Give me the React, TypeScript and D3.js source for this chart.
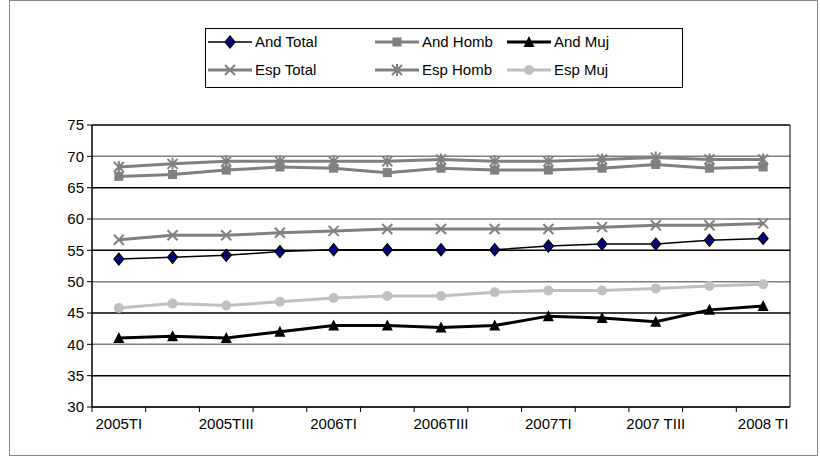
import * as d3 from 'd3'

const categories = ['2005TI', '2005TII', '2005TIII', '2005TIV', '2006TI', '2006TII', '2006TIII', '2006TIV', '2007TI', '2007TII', '2007 TIII', '2007TIV', '2008 TI']
const yTicks = [30, 35, 40, 45, 50, 55, 60, 65, 70, 75]

const andTotal = [53.6, 53.9, 54.2, 54.8, 55.1, 55.1, 55.1, 55.1, 55.7, 56.0, 56.0, 56.6, 56.9]
const andHomb = [66.8, 67.1, 67.8, 68.3, 68.1, 67.4, 68.1, 67.8, 67.8, 68.1, 68.7, 68.1, 68.3]
const andMuj = [41.0, 41.3, 41.0, 42.0, 43.0, 43.0, 42.7, 43.0, 44.5, 44.2, 43.6, 45.5, 46.1]
const espTotal = [56.7, 57.4, 57.4, 57.8, 58.1, 58.4, 58.4, 58.4, 58.4, 58.7, 59.0, 59.0, 59.3]
const espHomb = [68.3, 68.8, 69.2, 69.2, 69.2, 69.2, 69.5, 69.2, 69.2, 69.5, 69.8, 69.5, 69.5]
const espMuj = [45.8, 46.5, 46.2, 46.8, 47.4, 47.7, 47.7, 48.3, 48.6, 48.6, 48.9, 49.3, 49.6]

type Marker = 'diamond' | 'square' | 'triangle' | 'x' | 'star' | 'circle'
const series: { name: string; values: number[]; color: string; width: number; marker: Marker; fill: string }[] = [
  { name: 'And Total', values: andTotal, color: '#000000', width: 1.5, marker: 'diamond', fill: '#000080' },
  { name: 'And Homb', values: andHomb, color: '#808080', width: 3, marker: 'square', fill: '#808080' },
  { name: 'And Muj', values: andMuj, color: '#000000', width: 3, marker: 'triangle', fill: '#000000' },
  { name: 'Esp Total', values: espTotal, color: '#808080', width: 3, marker: 'x', fill: '#808080' },
  { name: 'Esp Homb', values: espHomb, color: '#808080', width: 3, marker: 'star', fill: '#808080' },
  { name: 'Esp Muj', values: espMuj, color: '#c0c0c0', width: 3, marker: 'circle', fill: '#c0c0c0' },
]

function MarkerShape({ m, x, y, color, fill }: { m: Marker; x: number; y: number; color: string; fill: string }) {
  const t = `translate(${x},${y})`
  switch (m) {
    case 'diamond':
      return <path transform={t} d="M0,-6L5,0L0,6L-5,0Z" fill={fill} stroke="#000" strokeWidth={1.2} />
    case 'square':
      return <rect transform={t} x={-4.5} y={-4.5} width={9} height={9} fill={fill} />
    case 'triangle':
      return <path transform={t} d="M0,-6L5.5,5L-5.5,5Z" fill={fill} />
    case 'x':
      return <path transform={t} d="M-5,-5L5,5M-5,5L5,-5" stroke={color} strokeWidth={2} />
    case 'star':
      return <path transform={t} d="M-5,-5L5,5M-5,5L5,-5M0,-6L0,6" stroke={color} strokeWidth={2} />
    default:
      return <circle transform={t} r={5} fill={fill} />
  }
}

export default function App() {
  const W = 820, H = 463
  const left = 92, right = 790, top = 125, bottom = 407
  const x = d3.scaleBand<string>().domain(categories).range([left, right])
  const y = d3.scaleLinear().domain([30, 75]).range([bottom, top])
  const cx = (c: string) => (x(c) ?? 0) + x.bandwidth() / 2
  const line = d3.line<number>().x((_, i) => cx(categories[i])).y(d => y(d))
  const font = 'Liberation Sans, Arial, sans-serif'
  const legX = [208, 375, 507]
  const legY = [42, 70]

  return (
    <svg width={W} height={H} style={{ position: 'absolute', left: 0, top: 0 }} fontFamily={font}>
      <rect x={0} y={0} width={W} height={H} fill="#fff" />
      <rect x={9.5} y={0.5} width={808} height={455} fill="none" stroke="#888" />
      {yTicks.map(t => (
        <g key={t}>
          <line x1={left} x2={right} y1={y(t)} y2={y(t)} stroke={t % 10 === 0 ? '#808080' : '#000'} strokeWidth={1.5} />
          <line x1={left - 5} x2={left} y1={y(t)} y2={y(t)} stroke="#000" />
          <text x={left - 8} y={y(t)} dy="0.35em" textAnchor="end" fontSize={15}>{t}</text>
        </g>
      ))}
      <line x1={right} x2={right} y1={top} y2={bottom} stroke="#000" />
      <line x1={left} x2={left} y1={top} y2={bottom} stroke="#000" strokeWidth={1.5} />
      <line x1={left} x2={right} y1={bottom} y2={bottom} stroke="#000" strokeWidth={1.5} />
      {categories.map((c, i) => (
        <g key={c}>
          <line x1={(x(c) ?? 0)} x2={(x(c) ?? 0)} y1={bottom} y2={bottom + 5} stroke="#000" />
          {i % 2 === 0 && <text x={cx(c)} y={bottom + 22} textAnchor="middle" fontSize={15}>{c}</text>}
        </g>
      ))}
      {series.map(s => (
        <g key={s.name}>
          <path d={line(s.values) ?? ''} fill="none" stroke={s.color} strokeWidth={s.width} />
          {s.values.map((v, i) => (
            <MarkerShape key={i} m={s.marker} x={cx(categories[i])} y={y(v)} color={s.color} fill={s.fill} />
          ))}
        </g>
      ))}
      <rect x={205.5} y={28.5} width={477} height={59} fill="#fff" stroke="#000" />
      {series.map((s, i) => {
        const lx = legX[i % 3], ly = legY[Math.floor(i / 3)]
        return (
          <g key={s.name}>
            <line x1={lx} x2={lx + 44} y1={ly} y2={ly} stroke={s.color} strokeWidth={s.width} />
            <MarkerShape m={s.marker} x={lx + 22} y={ly} color={s.color} fill={s.fill} />
            <text x={lx + 47} y={ly} dy="0.35em" fontSize={15}>{s.name}</text>
          </g>
        )
      })}
    </svg>
  )
}
